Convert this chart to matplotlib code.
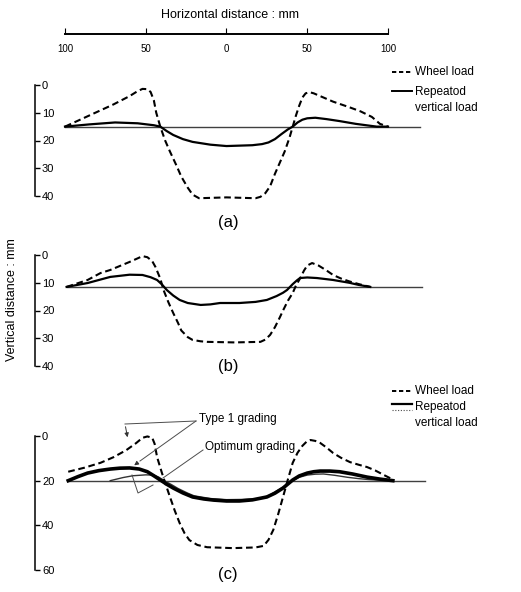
import numpy as np
import matplotlib
matplotlib.use("Agg")
import matplotlib.pyplot as plt
from matplotlib.lines import Line2D

plt.rcParams['font.family'] = ['Liberation Sans', 'DejaVu Sans']

W, H = 521, 592

# ---------------- data (horizontal mm, vertical depth mm) ----------------
top_ticks = [-100, -50, 0, 50, 100]
top_labels = ["100", "50", "0", "50", "100"]

# (a)
a_wheel_x = [-100, -85, -70, -60, -55, -52, -49, -47, -45, -43.5, -41, -38, -35, -31, -28, -24, -21, -17, 0, 18, 21, 24, 27, 30, 33, 36, 39, 41, 43, 45, 47, 49, 51.5, 54, 58, 66, 76, 83, 90, 95, 100]
a_wheel_y = [15, 11, 7, 4, 2.2, 1.4, 1.5, 2.5, 5.5, 10, 15, 20, 24, 29, 33, 37, 39.5, 40.8, 40.5, 40.8, 40.3, 39, 36.5, 32, 28, 24, 19, 15, 11, 7.5, 4.5, 3, 2.6, 3, 4, 6, 8, 9.5, 11.5, 14, 15]
a_rep_x = [-100, -85, -69, -55, -45, -41, -37, -33, -27, -21, -10, 0, 16, 22, 26, 30, 34, 38, 41, 44, 47, 50, 55, 62, 70, 80, 93, 100]
a_rep_y = [15, 14.2, 13.5, 13.8, 14.5, 15, 16.6, 18, 19.5, 20.5, 21.5, 22, 21.7, 21.3, 20.7, 19.5, 17.7, 16, 15, 13.5, 12.5, 12, 11.8, 12.3, 13, 14, 15, 15]
a_base_x = [-100, 120]
a_base_y = [15, 15]
a_yticks = [0, 10, 20, 30, 40]

# (b)
b_wheel_x = [-99, -86, -78, -72, -60, -55, -52, -49, -46, -44, -41, -39, -36, -33, -30, -28, -24, -21, -16, -12, 5, 21, 24, 27, 30, 33, 35, 38, 41, 43, 45.5, 48, 50, 53, 57, 62, 66, 71, 76, 82, 89]
b_wheel_y = [11.5, 9, 6.5, 5.4, 2.5, 1.2, 0.4, 0.8, 2.2, 4.3, 8.5, 12.6, 17, 20.9, 24.5, 27.2, 29.6, 30.6, 31.1, 31.3, 31.5, 31.3, 30.5, 28.8, 26, 22.5, 20, 16.5, 13.7, 11, 8.5, 5.6, 3.8, 2.9, 3.8, 5.6, 7.2, 8.5, 9.5, 10.5, 11.5]
b_rep_x = [-99, -86, -72, -60, -52, -47, -43, -40, -37, -33, -29, -24, -16, -10, -4, 8, 18, 25, 31, 35, 37.5, 41, 43.5, 45.5, 50, 56, 66, 76, 82, 89]
b_rep_y = [11.5, 10.1, 7.9, 7.1, 7.2, 8, 9, 10.6, 12.6, 14.6, 16.2, 17.3, 18, 17.8, 17.3, 17.3, 16.9, 16.2, 14.8, 13.6, 12.6, 10.5, 9.2, 8.3, 8.1, 8.3, 9, 10, 10.8, 11.5]
b_base_x = [-99, 121]
b_base_y = [11.5, 11.5]
b_yticks = [0, 10, 20, 30, 40]

# (c)
c_wheel_x = [-98, -88, -78, -70, -62, -56, -52, -49, -46, -44.5, -43, -40, -37.5, -35, -32, -29, -26, -23, -18, -12, 4, 18, 23, 26, 29, 32, 35, 38, 41, 44, 47, 49.5, 52, 55, 58, 62, 66, 71, 76.5, 82, 87, 92, 97, 103]
c_wheel_y = [16, 14.2, 12, 9.5, 6.3, 3.2, 0.8, 0.2, 0.8, 3.5, 9.4, 16.5, 22, 27.3, 33.5, 39, 43.5, 46.6, 48.8, 49.8, 50.2, 49.9, 49.2, 46.5, 42, 35, 27.3, 19.5, 12, 7.5, 4.4, 2.6, 1.8, 2.2, 3.1, 5.2, 7.6, 9.8, 11.7, 12.9, 13.9, 15.4, 17.3, 19.5]
c_type1_x = [-98, -92, -86, -79, -72, -66, -60, -54, -49, -45, -41, -37, -33, -27, -21, -14, -8, 0, 8, 16, 25, 30, 35, 38, 41, 45, 50, 54, 58, 64, 70, 78, 87, 95, 103]
c_type1_y = [20, 18.2, 16.6, 15.5, 14.8, 14.4, 14.3, 14.8, 16, 17.8, 19.7, 21.6, 23.3, 25.5, 27.3, 28.2, 28.7, 29.1, 29.1, 28.6, 27.3, 25.6, 23.3, 21.5, 19.7, 17.9, 16.6, 16, 15.7, 15.7, 16, 17, 18.4, 19.3, 20]
c_opt_x = [-72, -64, -58, -50, -45, -42, -39, -34, -30, -24, -20, -10, 0, 10, 20, 26, 30, 36, 41, 45, 50, 55, 60, 67, 75, 82, 88, 95, 102]
c_opt_y = [20, 18.6, 17.8, 17.4, 17.5, 18.4, 19.8, 21.8, 23.5, 25.6, 26.8, 28, 28.5, 28.4, 28, 26.8, 25, 22.5, 20, 18.5, 17.5, 17.1, 17, 17.6, 18.5, 19.1, 19.5, 19.8, 20]
c_base_x = [-98, 123]
c_base_y = [20, 20]
c_yticks = [0, 20, 40, 60]


def fx(px):
    return px / W


def fy(py):
    return 1 - py / H


# x mapping: -100 mm at px 65, +100 mm at px 388
XL, XR = 35, 430
sx = (388 - 65) / 200.0
xlim = (-100 - (65 - XL) / sx, -100 + (XR - 65) / sx)


def make_axes(top_px, bot_px, zero_px, last_px, last_val):
    ax = fig.add_axes([fx(XL), fy(bot_px), (XR - XL) / W, (bot_px - top_px) / H])
    sy = (last_px - zero_px) / last_val
    ax.set_xlim(*xlim)
    ax.set_ylim(last_val + (bot_px - last_px) / sy, -(zero_px - top_px) / sy)
    for s in ['top', 'right', 'bottom']:
        ax.spines[s].set_visible(False)
    ax.spines['left'].set_bounds(0, last_val)
    ax.spines['left'].set_linewidth(1.1)
    ax.set_xticks([])
    ax.patch.set_alpha(0)
    return ax


def style_y(ax, ticks):
    ax.set_yticks(ticks)
    ax.set_yticklabels([str(t) for t in ticks])
    ax.tick_params(axis='y', direction='in', length=3.5, width=1, pad=-5, labelsize=8)
    for lab in ax.get_yticklabels():
        lab.set_ha('left')


fig = plt.figure(figsize=(W / 100, H / 100), dpi=100)

dash = (0, (3.2, 1.8))

# top horizontal axis
axt = fig.add_axes([fx(XL), fy(34), (XR - XL) / W, 0.001])
axt.set_xlim(*xlim)
for s in ['top', 'right', 'left']:
    axt.spines[s].set_visible(False)
axt.spines['bottom'].set_bounds(-100, 100)
axt.spines['bottom'].set_linewidth(1.4)
axt.set_yticks([])
axt.set_xticks(top_ticks)
axt.set_xticklabels(top_labels)
axt.tick_params(axis='x', direction='in', length=4, width=0.8, pad=7, labelsize=7)
fig.text(fx(230), fy(15), "Horizontal distance : mm", ha='center', va='center', fontsize=9)

# (a)
axa = make_axes(75, 205, 85, 196, 40)
style_y(axa, a_yticks)
axa.plot(a_base_x, a_base_y, color='0.25', lw=1.0)
axa.plot(a_rep_x, a_rep_y, color='black', lw=1.6)
axa.plot(a_wheel_x, a_wheel_y, color='black', lw=1.5, linestyle=dash)
fig.text(fx(228), fy(222), "(a)", ha='center', va='center', fontsize=12)

# (b)
axb = make_axes(245, 375, 255, 366, 40)
style_y(axb, b_yticks)
axb.plot(b_base_x, b_base_y, color='0.25', lw=1.0)
axb.plot(b_rep_x, b_rep_y, color='black', lw=1.6)
axb.plot(b_wheel_x, b_wheel_y, color='black', lw=1.5, linestyle=dash)
fig.text(fx(228), fy(367), "(b)", ha='center', va='center', fontsize=12)
fig.text(fx(12), fy(300), "Vertical distance : mm", ha='center', va='center',
         rotation=90, fontsize=9)

# (c)
axc = make_axes(426, 580, 436, 570, 60)
style_y(axc, c_yticks)
axc.plot(c_base_x, c_base_y, color='0.25', lw=1.0)
axc.plot(c_opt_x, c_opt_y, color='0.2', lw=1.0)
axc.plot(c_type1_x, c_type1_y, color='black', lw=2.6)
axc.plot(c_wheel_x, c_wheel_y, color='black', lw=1.5, linestyle=dash)
fig.text(fx(228), fy(575), "(c)", ha='center', va='center', fontsize=12)


def cxy(px, py):
    return ((px - 226.5) / sx, (py - 436) / ((570 - 436) / 60.0))


thin = dict(color='0.3', lw=0.7)
arrow = dict(arrowstyle='-|>', color='0.2', lw=0.7, mutation_scale=6)
axc.text(*cxy(199, 419), "Type 1 grading", fontsize=8.5, ha='left', va='center')
axc.plot(*zip(cxy(196, 421), cxy(125, 424)), **thin, clip_on=False)
axc.plot(*zip(cxy(196, 421), cxy(140, 461)), **thin, clip_on=False)
axc.annotate("", xy=cxy(128, 440), xytext=cxy(125, 424), arrowprops=arrow,
             annotation_clip=False)
axc.annotate("", xy=cxy(132, 467), xytext=cxy(140, 461), arrowprops=arrow,
             annotation_clip=False)
axc.text(*cxy(205, 447), "Optimum grading", fontsize=8.5, ha='left', va='center')
axc.plot(*zip(cxy(203, 450), cxy(163, 478)), **thin)
axc.plot(*zip(cxy(132, 475), cxy(138, 493), cxy(153, 485)), **thin)


# legends (drawn by hand to mimic the stacked samples)
def leg_line(x0, x1, y, **kw):
    fig.add_artist(Line2D([fx(x0), fx(x1)], [fy(y), fy(y)], transform=fig.transFigure, **kw))


leg_line(392, 412, 72, color='black', lw=1.4, linestyle=(0, (2.2, 1.4)))
fig.text(fx(415), fy(72), "Wheel load", ha='left', va='center', fontsize=8.5)
leg_line(392, 412, 91, color='black', lw=1.4)
fig.text(fx(415), fy(92), "Repeatod", ha='left', va='center', fontsize=8.5)
fig.text(fx(415), fy(108), "vertical load", ha='left', va='center', fontsize=8.5)

leg_line(392, 412, 391, color='black', lw=1.4, linestyle=(0, (2.2, 1.4)))
fig.text(fx(415), fy(391), "Wheel load", ha='left', va='center', fontsize=8.5)
leg_line(392, 412, 404, color='black', lw=1.6)
leg_line(392, 412, 410, color='0.3', lw=0.8, linestyle=(0, (1, 1.5)))
fig.text(fx(415), fy(407), "Repeatod", ha='left', va='center', fontsize=8.5)
fig.text(fx(415), fy(423), "vertical load", ha='left', va='center', fontsize=8.5)

fig.savefig("out.png", dpi=100)
